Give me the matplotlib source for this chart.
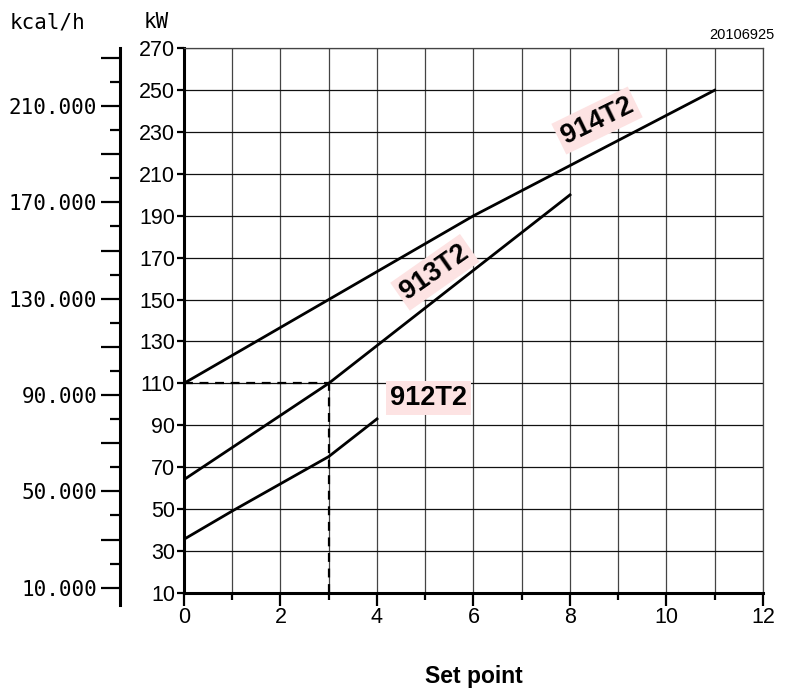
import numpy as np
import matplotlib
matplotlib.use("Agg")
import matplotlib.pyplot as plt
from matplotlib.ticker import FixedLocator, FuncFormatter

# curves (set point -> kW)
x_914 = [0, 3, 6, 8, 11]
y_914 = [110, 150, 190, 214, 250]
x_913 = [0, 3, 4, 8]
y_913 = [64, 110, 128, 200]
x_912 = [0, 1, 2, 3, 4]
y_912 = [35.5, 49, 62, 75, 93]

# example reading (dashed)
ex_x = 3
ex_kw = 110

kw_ticks = list(range(10, 271, 20))
x_ticks = list(range(0, 13, 2))
kcal_major = list(range(10000, 230001, 20000))
kcal_minor = list(range(20000, 220001, 20000))

plt.rcParams['font.family'] = ['Liberation Sans', 'DejaVu Sans']

fig = plt.figure(figsize=(7.9, 6.91), dpi=100)
ax = fig.add_axes([0.2329, 0.1423, 0.7329, 0.7878])

ax.set_xlim(0, 12)
ax.set_ylim(10, 270)
ax.set_xticks(x_ticks)
ax.set_xticks(range(1, 12, 2), minor=True)
ax.set_yticks(kw_ticks)
ax.tick_params(axis='x', which='major', length=9, width=1.6, labelsize=15.5, pad=1)
ax.tick_params(axis='x', which='minor', length=5, width=1.6)
ax.tick_params(axis='y', which='major', length=5, width=1.6, labelsize=15.5, pad=1.5)

ax.grid(True, which='both', axis='x', color='#444444', linewidth=0.9)
ax.grid(True, which='major', axis='y', color='#111111', linewidth=0.9)
ax.set_axisbelow(True)
for s in ['top', 'right']:
    ax.spines[s].set_linewidth(0.9)
    ax.spines[s].set_color('#444444')
ax.spines['left'].set_linewidth(2.2)
ax.spines['bottom'].set_linewidth(2.2)

ax.plot(x_914, y_914, color='black', lw=2)
ax.plot(x_913, y_913, color='black', lw=2)
ax.plot(x_912, y_912, color='black', lw=2)

ax.plot([0, ex_x], [ex_kw, ex_kw], color='black', lw=1.6, ls=(0, (4, 3)))
ax.plot([ex_x, ex_x], [10, ex_kw], color='black', lw=1.6, ls=(0, (4, 3)))

box = dict(facecolor='#fde3e3', edgecolor='none', pad=3)
ax.text(8.56, 235.5, "914T2", rotation=26, ha='center', va='center',
        fontsize=19.5, fontweight='bold', bbox=box)
ax.text(5.2, 163, "913T2", rotation=35, ha='center', va='center',
        fontsize=19.5, fontweight='bold', bbox=box)
ax.text(5.06, 103, "912T2", rotation=0, ha='center', va='center',
        fontsize=19.5, fontweight='bold', bbox=box)

# kcal/h scale on the far left
ax2 = fig.add_axes([0.1519, 0.1245, 0.0001, 0.8056])
ax2.set_ylim(2817, 233961)
ax2.set_xticks([])
for s in ['top', 'right', 'bottom']:
    ax2.spines[s].set_visible(False)
ax2.spines['left'].set_linewidth(2.2)
ax2.yaxis.set_major_locator(FixedLocator(kcal_major))
ax2.yaxis.set_minor_locator(FixedLocator(kcal_minor))
ax2.yaxis.set_major_formatter(FuncFormatter(
    lambda v, p: "%d.000" % (v // 1000) if (v - 10000) % 40000 == 0 and v <= 210000 else ""))
ax2.tick_params(axis='y', which='major', length=13.5, width=1.6, pad=3,
                labelsize=15, labelfontfamily='DejaVu Sans Mono')
ax2.tick_params(axis='y', which='minor', length=7, width=1.6)

fig.text(10 / 790, 1 - 22 / 691, "kcal/h", family='DejaVu Sans Mono',
         fontsize=15, va='center', ha='left')
fig.text(144 / 790, 1 - 22 / 691, "kW", family='DejaVu Sans Mono',
         fontsize=15, va='center', ha='left')
fig.text(775 / 790, 1 - 35 / 691, "20106925", fontsize=10.5, va='center', ha='right')
fig.text(0.5 * (184 + 763) / 790, 1 - 677 / 691, "Set point", fontsize=16.5,
         fontweight='bold', ha='center', va='center')

fig.savefig("out.png", dpi=100)
